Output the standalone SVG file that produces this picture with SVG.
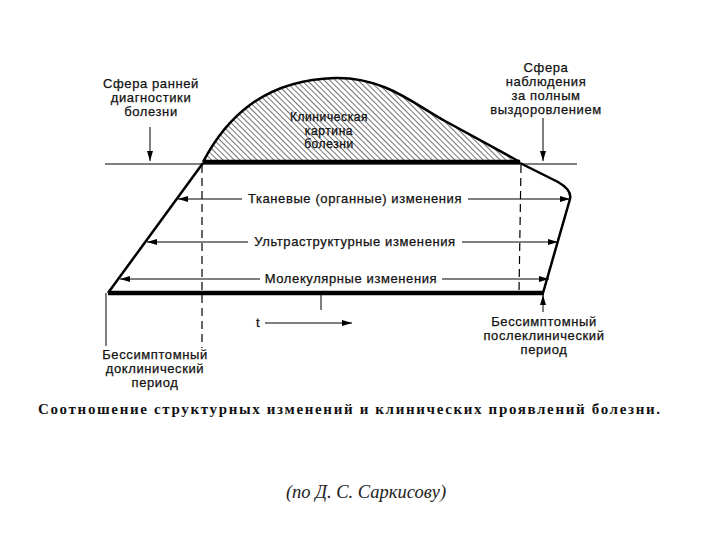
<svg xmlns="http://www.w3.org/2000/svg" width="720" height="540" viewBox="0 0 720 540">
<defs>
<pattern id="hatch" width="4" height="4" patternUnits="userSpaceOnUse" patternTransform="rotate(-45)">
<line x1="0" y1="0" x2="0" y2="4" stroke="#000" stroke-width="1.1"/>
</pattern>
<marker id="ah" viewBox="0 0 10 6" refX="10" refY="3" markerWidth="10" markerHeight="6" markerUnits="userSpaceOnUse" orient="auto">
<path d="M0,0 L10,3 L0,6 Z" fill="#000"/>
</marker>
<style>
.lbl{font-family:"Liberation Sans",Arial,sans-serif;font-size:13px;fill:#111;stroke:#111;stroke-width:0.25;text-anchor:middle;letter-spacing:0.6px}
.sm{font-size:12px}
.thin{stroke:#000;stroke-width:1;fill:none}
.thick{stroke:#000;stroke-width:2.5;fill:none}
.bold{stroke:#000;stroke-width:4.5;fill:none}
.dash{stroke:#000;stroke-width:1.2;fill:none;stroke-dasharray:8,5}
.arr{stroke:#000;stroke-width:1;fill:none;marker-end:url(#ah)}
</style>
</defs>
<rect width="720" height="540" fill="#fff"/>
<g id="clinical">
<path d="M203,162 C225,120 262,80 335,78 C385,77 415,105 445,121 L520,162 Z" fill="url(#hatch)" stroke="none"/>
<path d="M203,162 C225,120 262,80 335,78 C385,77 415,105 445,121 L520,162" class="thick"/>
<text class="lbl sm" x="329" y="121">Клиническая</text>
<text class="lbl sm" x="329" y="134.5">картина</text>
<text class="lbl sm" x="329" y="148">болезни</text>
</g>
<g id="body">
<line x1="105" y1="164" x2="577" y2="164" class="thin"/>
<line x1="203" y1="162" x2="520" y2="162" class="bold"/>
<path d="M203,163 L108,293" class="thick"/>
<path d="M520,163 L558,182 Q572,190 570,199 L543,293" class="thick"/>
<line x1="108" y1="293" x2="544" y2="293" class="bold"/>
</g>
<g id="connectors">
<line x1="150" y1="127" x2="150" y2="161" class="arr"/>
<line x1="543" y1="118" x2="543" y2="161" class="arr"/>
<line x1="106" y1="293" x2="106" y2="346" class="thin"/>
<line x1="202" y1="165" x2="202" y2="348" class="dash"/>
<line x1="521" y1="165" x2="519" y2="293" class="dash"/>
<line x1="321" y1="293" x2="321" y2="310" class="thin"/>
<line x1="543" y1="312" x2="543" y2="295" class="arr"/>
<line x1="265" y1="323" x2="352" y2="323" class="arr"/>
<line x1="242" y1="199" x2="178" y2="199" class="arr"/>
<line x1="468" y1="199" x2="570" y2="199" class="arr"/>
<line x1="248" y1="242" x2="147" y2="242" class="arr"/>
<line x1="462" y1="242" x2="558" y2="242" class="arr"/>
<line x1="260" y1="279" x2="120" y2="279" class="arr"/>
<line x1="442" y1="279" x2="549" y2="279" class="arr"/>
</g>
<g id="level-tissue"><text class="lbl" x="355" y="203">Тканевые (органные) изменения</text></g>
<g id="level-ultra"><text class="lbl" x="355" y="246">Ультраструктурные изменения</text></g>
<g id="level-molecular"><text class="lbl" x="351" y="283">Молекулярные изменения</text></g>
<g id="early-diagnosis">
<text class="lbl" x="151" y="88">Сфера ранней</text>
<text class="lbl" x="151" y="102">диагностики</text>
<text class="lbl" x="151" y="116">болезни</text>
</g>
<g id="recovery">
<text class="lbl" x="546" y="72">Сфера</text>
<text class="lbl" x="546" y="86">наблюдения</text>
<text class="lbl" x="546" y="100">за полным</text>
<text class="lbl" x="546" y="114">выздоровлением</text>
</g>
<g id="preclinical">
<text class="lbl" x="155" y="359">Бессимптомный</text>
<text class="lbl" x="155" y="373">доклинический</text>
<text class="lbl" x="155" y="387">период</text>
</g>
<g id="postclinical">
<text class="lbl" x="544" y="326">Бессимптомный</text>
<text class="lbl" x="544" y="340">послеклинический</text>
<text class="lbl" x="544" y="354">период</text>
</g>
<g id="time"><text class="lbl" x="258" y="327">t</text></g>
<text x="38" y="414" font-family="Liberation Serif,'Times New Roman',serif" font-weight="bold" font-size="15" textLength="622" lengthAdjust="spacing" fill="#111">Соотношение структурных изменений и клинических  проявлений болезни.</text>
<text x="366" y="498" font-family="Liberation Serif,'Times New Roman',serif" font-style="italic" font-size="18.5" text-anchor="middle" fill="#222">(по Д. С. Саркисову)</text>
</svg>
